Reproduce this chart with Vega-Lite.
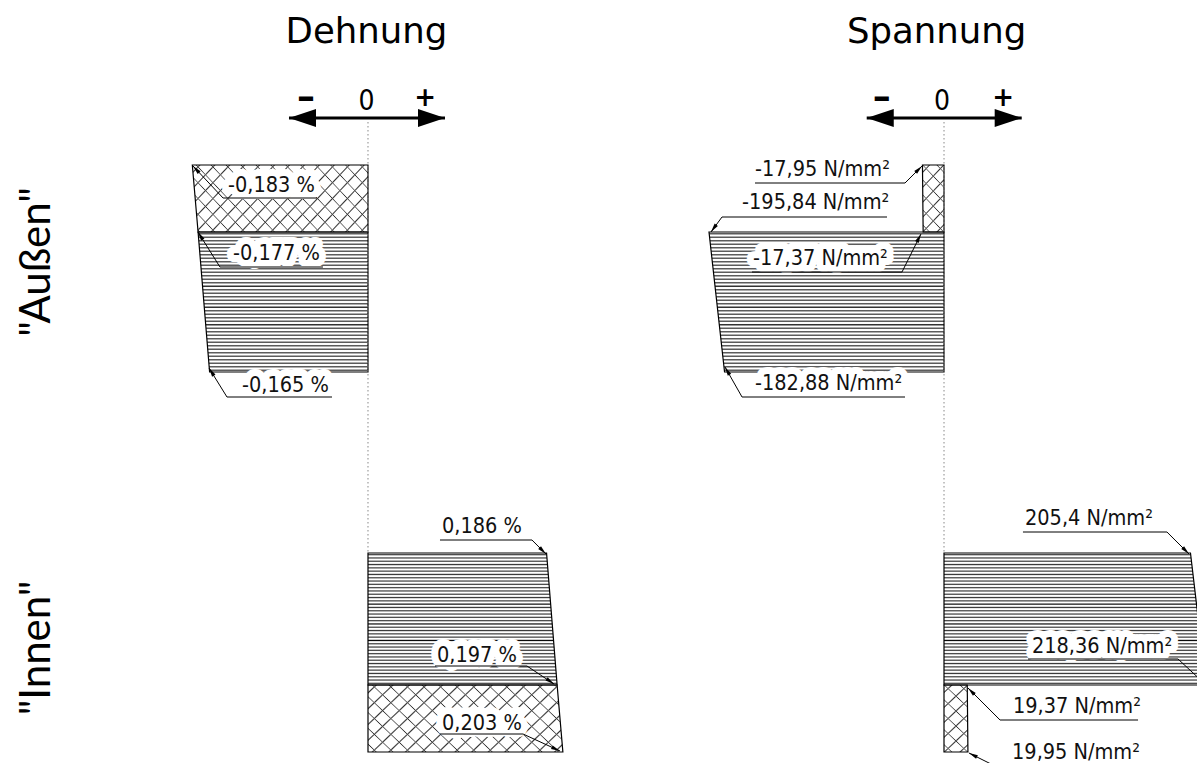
{
"$schema":"https://vega.github.io/schema/vega-lite/v6.json",
"padding":0,
"spacing":0,
"bounds":"flush",
"background":"white",
"config":{"view":{"stroke":null},"font":"DejaVu Sans"},
"datasets":{
"shape":[
{"panel":"D","part":"SO_X","hatch":"cross","v":-0.183,"z":0},{"panel":"D","part":"SO_X","hatch":"cross","v":-0.177,"z":33.5},
{"panel":"D","part":"SO_L","hatch":"lines","v":-0.177,"z":33.5},{"panel":"D","part":"SO_L","hatch":"lines","v":-0.165,"z":103.5},
{"panel":"D","part":"SI_L","hatch":"lines","v":0.186,"z":194},{"panel":"D","part":"SI_L","hatch":"lines","v":0.197,"z":260},
{"panel":"D","part":"SI_X","hatch":"cross","v":0.197,"z":260},{"panel":"D","part":"SI_X","hatch":"cross","v":0.203,"z":293.5},
{"panel":"S","part":"SO_X","hatch":"cross","v":-17.95,"z":0},{"panel":"S","part":"SO_X","hatch":"cross","v":-17.37,"z":33.5},
{"panel":"S","part":"SO_L","hatch":"lines","v":-195.84,"z":33.5},{"panel":"S","part":"SO_L","hatch":"lines","v":-182.88,"z":103.5},
{"panel":"S","part":"SI_L","hatch":"lines","v":205.4,"z":194},{"panel":"S","part":"SI_L","hatch":"lines","v":218.36,"z":260},
{"panel":"S","part":"SI_X","hatch":"cross","v":19.37,"z":260},{"panel":"S","part":"SI_X","hatch":"cross","v":19.95,"z":293.5}
],
"zero":[{"panel":"D","v":0,"z":-21.5,"z2":194},{"panel":"S","v":0,"z":-21.5,"z2":194}],
"labels":[
{"panel":"D","t":"-0,183 %","v":-0.1458,"z":13.5},
{"panel":"D","t":"-0,177 %","v":-0.1406,"z":47.5},
{"panel":"D","t":"-0,165 %","v":-0.1313,"z":113.5},
{"panel":"D","t":"0,186 %","v":0.0771,"z":184},
{"panel":"D","t":"0,197 %","v":0.0719,"z":248.5},
{"panel":"D","t":"0,203 %","v":0.0771,"z":282.5},
{"panel":"S","t":"-17,95 N/mm²","v":-157.5,"z":5.5},
{"panel":"S","t":"-195,84 N/mm²","v":-168.3,"z":22},
{"panel":"S","t":"-17,37 N/mm²","v":-159.2,"z":50},
{"panel":"S","t":"-182,88 N/mm²","v":-157.5,"z":112.5},
{"panel":"S","t":"205,4 N/mm²","v":67.5,"z":180},
{"panel":"S","t":"218,36 N/mm²","v":73.3,"z":244},
{"panel":"S","t":"19,37 N/mm²","v":57.5,"z":274},
{"panel":"S","t":"19,95 N/mm²","v":56.7,"z":297}
],
"leaders":[
{"panel":"D","id":"d1","o":0,"v":-0.0531,"z":16.5},{"panel":"D","id":"d1","o":1,"v":-0.151,"z":16.5},{"panel":"D","id":"d1","o":2,"v":-0.1823,"z":0.5},
{"panel":"D","id":"d2","o":0,"v":-0.0469,"z":51},{"panel":"D","id":"d2","o":1,"v":-0.1542,"z":51},{"panel":"D","id":"d2","o":2,"v":-0.1771,"z":33.5},
{"panel":"D","id":"d3","o":0,"v":-0.0375,"z":116},{"panel":"D","id":"d3","o":1,"v":-0.1469,"z":116},{"panel":"D","id":"d3","o":2,"v":-0.1656,"z":101.5},
{"panel":"D","id":"d4","o":0,"v":0.075,"z":187.5},{"panel":"D","id":"d4","o":1,"v":0.1708,"z":187.5},{"panel":"D","id":"d4","o":2,"v":0.1854,"z":194.5},
{"panel":"D","id":"d5","o":0,"v":0.0698,"z":250.5},{"panel":"D","id":"d5","o":1,"v":0.1656,"z":250.5},{"panel":"D","id":"d5","o":2,"v":0.1938,"z":259.5},
{"panel":"D","id":"d6","o":0,"v":0.075,"z":284.5},{"panel":"D","id":"d6","o":1,"v":0.1615,"z":284.5},{"panel":"D","id":"d6","o":2,"v":0.2,"z":293},
{"panel":"S","id":"s7","o":0,"v":-157.5,"z":9},{"panel":"S","id":"s7","o":1,"v":-32.5,"z":9},{"panel":"S","id":"s7","o":2,"v":-18.3,"z":0.5},
{"panel":"S","id":"s8","o":0,"v":-47.5,"z":26},{"panel":"S","id":"s8","o":1,"v":-185,"z":26},{"panel":"S","id":"s8","o":2,"v":-194.2,"z":33.5},
{"panel":"S","id":"s9","o":0,"v":-160,"z":53.5},{"panel":"S","id":"s9","o":1,"v":-35,"z":53.5},{"panel":"S","id":"s9","o":2,"v":-19.2,"z":34.5},
{"panel":"S","id":"s10","o":0,"v":-32.5,"z":116},{"panel":"S","id":"s10","o":1,"v":-168.3,"z":116},{"panel":"S","id":"s10","o":2,"v":-182.5,"z":101},
{"panel":"S","id":"s11","o":0,"v":65.8,"z":183.5},{"panel":"S","id":"s11","o":1,"v":185.8,"z":183.5},{"panel":"S","id":"s11","o":2,"v":204.2,"z":194.5},
{"panel":"S","id":"s12","o":0,"v":70,"z":247},{"panel":"S","id":"s12","o":1,"v":195,"z":247},{"panel":"S","id":"s12","o":2,"v":217.5,"z":259.5},
{"panel":"S","id":"s13","o":0,"v":161.7,"z":277.5},{"panel":"S","id":"s13","o":1,"v":46.7,"z":277.5},{"panel":"S","id":"s13","o":2,"v":20,"z":261.5},
{"panel":"S","id":"s14","o":0,"v":161.7,"z":300.5},{"panel":"S","id":"s14","o":1,"v":42.5,"z":300.5},{"panel":"S","id":"s14","o":2,"v":20.8,"z":294}
],
"heads":[
{"panel":"D","v":-0.1823,"z":0.5,"deg":-133},{"panel":"D","v":-0.1771,"z":33.5,"deg":-122},{"panel":"D","v":-0.1656,"z":101.5,"deg":-122},
{"panel":"D","v":0.1854,"z":194.5,"deg":45},{"panel":"D","v":0.1938,"z":259.5,"deg":34},{"panel":"D","v":0.2,"z":293,"deg":25},
{"panel":"S","v":-18.3,"z":0.5,"deg":-45},{"panel":"S","v":-194.2,"z":33.5,"deg":126},{"panel":"S","v":-19.2,"z":34.5,"deg":-63},
{"panel":"S","v":-182.5,"z":101,"deg":-120},{"panel":"S","v":204.2,"z":194.5,"deg":45},{"panel":"S","v":20,"z":261.5,"deg":-135},
{"panel":"S","v":20.8,"z":294,"deg":-153}
],
"ann":[
{"panel":"D","kind":"title","t":"Dehnung","v":-0.0016,"z":-61},
{"panel":"S","kind":"title","t":"Spannung","v":-6.1,"z":-61},
{"panel":"D","kind":"minus","t":"–","v":-0.0646,"z":-33.5},
{"panel":"D","kind":"plus","t":"+","v":0.0594,"z":-33.5},
{"panel":"D","kind":"zero","t":"0","v":-0.0016,"z":-27.5},
{"panel":"S","kind":"minus","t":"–","v":-51.9,"z":-33.5},
{"panel":"S","kind":"plus","t":"+","v":49.2,"z":-33.5},
{"panel":"S","kind":"zero","t":"0","v":-1.7,"z":-27.5}
],
"arrows":[
{"panel":"D","side":"L","v":-0.0823,"z":-23.5},{"panel":"D","side":"R","v":0.0802,"z":-23.5},
{"panel":"S","side":"L","v":-64.4,"z":-23.5},{"panel":"S","side":"R","v":64.75,"z":-23.5}
],
"rows":[
{"panel":"D","t":"\"Außen\"","v":-0.3313,"z":48.5},
{"panel":"D","t":"\"Innen\"","v":-0.3313,"z":241.5}
]
},
"hconcat":[
{
"width":660,"height":763,
"encoding":{
"x":{"field":"v","type":"quantitative","stack":null,"scale":{"domain":[-0.38333,0.30417],"nice":false,"zero":false},"axis":null},
"y":{"field":"z","type":"quantitative","scale":{"domain":[-82.5,299],"nice":false,"zero":false,"reverse":true},"axis":null}
},
"layer":[
{"data":{"name":"shape"},"transform":[{"filter":"datum.panel=='D' && datum.hatch=='lines'"}],
"mark":{"type":"area","orient":"horizontal","opacity":1,"fill":{"gradient":"linear","x1":0,"y1":0,"x2":0,"y2":1,"stops":[
{"offset":0.0035,"color":"#fff"},{"offset":0.0125,"color":"#333"},{"offset":0.0215,"color":"#fff"},
{"offset":0.0285,"color":"#fff"},{"offset":0.0375,"color":"#333"},{"offset":0.0465,"color":"#fff"},
{"offset":0.0535,"color":"#fff"},{"offset":0.0625,"color":"#333"},{"offset":0.0715,"color":"#fff"},
{"offset":0.0785,"color":"#fff"},{"offset":0.0875,"color":"#333"},{"offset":0.0965,"color":"#fff"},
{"offset":0.1035,"color":"#fff"},{"offset":0.1125,"color":"#333"},{"offset":0.1215,"color":"#fff"},
{"offset":0.1285,"color":"#fff"},{"offset":0.1375,"color":"#333"},{"offset":0.1465,"color":"#fff"},
{"offset":0.1535,"color":"#fff"},{"offset":0.1625,"color":"#333"},{"offset":0.1715,"color":"#fff"},
{"offset":0.1785,"color":"#fff"},{"offset":0.1875,"color":"#333"},{"offset":0.1965,"color":"#fff"},
{"offset":0.2035,"color":"#fff"},{"offset":0.2125,"color":"#333"},{"offset":0.2215,"color":"#fff"},
{"offset":0.2285,"color":"#fff"},{"offset":0.2375,"color":"#333"},{"offset":0.2465,"color":"#fff"},
{"offset":0.2535,"color":"#fff"},{"offset":0.2625,"color":"#333"},{"offset":0.2715,"color":"#fff"},
{"offset":0.2785,"color":"#fff"},{"offset":0.2875,"color":"#333"},{"offset":0.2965,"color":"#fff"},
{"offset":0.3035,"color":"#fff"},{"offset":0.3125,"color":"#333"},{"offset":0.3215,"color":"#fff"},
{"offset":0.3285,"color":"#fff"},{"offset":0.3375,"color":"#333"},{"offset":0.3465,"color":"#fff"},
{"offset":0.3535,"color":"#fff"},{"offset":0.3625,"color":"#333"},{"offset":0.3715,"color":"#fff"},
{"offset":0.3785,"color":"#fff"},{"offset":0.3875,"color":"#000"},{"offset":0.3965,"color":"#fff"},
{"offset":0.4035,"color":"#fff"},{"offset":0.4125,"color":"#333"},{"offset":0.4215,"color":"#fff"},
{"offset":0.4285,"color":"#fff"},{"offset":0.4375,"color":"#333"},{"offset":0.4465,"color":"#fff"},
{"offset":0.4535,"color":"#fff"},{"offset":0.4625,"color":"#333"},{"offset":0.4715,"color":"#fff"},
{"offset":0.4785,"color":"#fff"},{"offset":0.4875,"color":"#333"},{"offset":0.4965,"color":"#fff"},
{"offset":0.5035,"color":"#fff"},{"offset":0.5125,"color":"#333"},{"offset":0.5215,"color":"#fff"},
{"offset":0.5285,"color":"#fff"},{"offset":0.5375,"color":"#000"},{"offset":0.5465,"color":"#fff"},
{"offset":0.5535,"color":"#fff"},{"offset":0.5625,"color":"#333"},{"offset":0.5715,"color":"#fff"},
{"offset":0.5785,"color":"#fff"},{"offset":0.5875,"color":"#333"},{"offset":0.5965,"color":"#fff"},
{"offset":0.6035,"color":"#fff"},{"offset":0.6125,"color":"#333"},{"offset":0.6215,"color":"#fff"},
{"offset":0.6285,"color":"#fff"},{"offset":0.6375,"color":"#333"},{"offset":0.6465,"color":"#fff"},
{"offset":0.6535,"color":"#fff"},{"offset":0.6625,"color":"#000"},{"offset":0.6715,"color":"#fff"},
{"offset":0.6785,"color":"#fff"},{"offset":0.6875,"color":"#333"},{"offset":0.6965,"color":"#fff"},
{"offset":0.7035,"color":"#fff"},{"offset":0.7125,"color":"#333"},{"offset":0.7215,"color":"#fff"},
{"offset":0.7285,"color":"#fff"},{"offset":0.7375,"color":"#333"},{"offset":0.7465,"color":"#fff"},
{"offset":0.7535,"color":"#fff"},{"offset":0.7625,"color":"#333"},{"offset":0.7715,"color":"#fff"},
{"offset":0.7785,"color":"#fff"},{"offset":0.7875,"color":"#333"},{"offset":0.7965,"color":"#fff"},
{"offset":0.8035,"color":"#fff"},{"offset":0.8125,"color":"#333"},{"offset":0.8215,"color":"#fff"},
{"offset":0.8285,"color":"#fff"},{"offset":0.8375,"color":"#333"},{"offset":0.8465,"color":"#fff"},
{"offset":0.8535,"color":"#fff"},{"offset":0.8625,"color":"#333"},{"offset":0.8715,"color":"#fff"},
{"offset":0.8785,"color":"#fff"},{"offset":0.8875,"color":"#333"},{"offset":0.8965,"color":"#fff"},
{"offset":0.9035,"color":"#fff"},{"offset":0.9125,"color":"#333"},{"offset":0.9215,"color":"#fff"},
{"offset":0.9285,"color":"#fff"},{"offset":0.9375,"color":"#333"},{"offset":0.9465,"color":"#fff"},
{"offset":0.9535,"color":"#fff"},{"offset":0.9625,"color":"#333"},{"offset":0.9715,"color":"#fff"},
{"offset":0.9785,"color":"#fff"},{"offset":0.9875,"color":"#333"},{"offset":0.9965,"color":"#fff"}
]}},
"encoding":{"x2":{"datum":0},"detail":{"field":"part"}}},
{"data":{"name":"shape"},"transform":[{"filter":"datum.panel=='D' && datum.hatch=='cross'"}],
"mark":{"type":"area","orient":"horizontal","opacity":1,"fill":{"gradient":"linear","x1":0,"y1":0,"x2":1.204,"y2":0.434,"stops":[
{"offset":0.0253,"color":"#fff"},{"offset":0.0313,"color":"#333"},{"offset":0.0373,"color":"#fff"},
{"offset":0.0878,"color":"#fff"},{"offset":0.0938,"color":"#333"},{"offset":0.0998,"color":"#fff"},
{"offset":0.1503,"color":"#fff"},{"offset":0.1563,"color":"#333"},{"offset":0.1623,"color":"#fff"},
{"offset":0.2128,"color":"#fff"},{"offset":0.2188,"color":"#333"},{"offset":0.2248,"color":"#fff"},
{"offset":0.2753,"color":"#fff"},{"offset":0.2813,"color":"#333"},{"offset":0.2873,"color":"#fff"},
{"offset":0.3378,"color":"#fff"},{"offset":0.3438,"color":"#333"},{"offset":0.3498,"color":"#fff"},
{"offset":0.4003,"color":"#fff"},{"offset":0.4063,"color":"#333"},{"offset":0.4123,"color":"#fff"},
{"offset":0.4628,"color":"#fff"},{"offset":0.4688,"color":"#333"},{"offset":0.4748,"color":"#fff"},
{"offset":0.5253,"color":"#fff"},{"offset":0.5313,"color":"#333"},{"offset":0.5373,"color":"#fff"},
{"offset":0.5878,"color":"#fff"},{"offset":0.5938,"color":"#333"},{"offset":0.5998,"color":"#fff"},
{"offset":0.6503,"color":"#fff"},{"offset":0.6563,"color":"#333"},{"offset":0.6623,"color":"#fff"},
{"offset":0.7128,"color":"#fff"},{"offset":0.7188,"color":"#333"},{"offset":0.7248,"color":"#fff"},
{"offset":0.7753,"color":"#fff"},{"offset":0.7813,"color":"#333"},{"offset":0.7873,"color":"#fff"},
{"offset":0.8378,"color":"#fff"},{"offset":0.8438,"color":"#333"},{"offset":0.8498,"color":"#fff"},
{"offset":0.9003,"color":"#fff"},{"offset":0.9063,"color":"#333"},{"offset":0.9123,"color":"#fff"},
{"offset":0.9628,"color":"#fff"},{"offset":0.9688,"color":"#333"},{"offset":0.9748,"color":"#fff"}
]}},
"encoding":{"x2":{"datum":0},"detail":{"field":"part"}}},
{"data":{"name":"shape"},"transform":[{"filter":"datum.panel=='D' && datum.hatch=='cross'"}],
"mark":{"type":"area","orient":"horizontal","opacity":1,"fill":{"gradient":"linear","x1":1,"y1":0,"x2":-0.204,"y2":0.434,"stops":[
{"offset":0.0253,"color":"rgba(255,255,255,0)"},{"offset":0.0313,"color":"#333"},{"offset":0.0373,"color":"rgba(255,255,255,0)"},
{"offset":0.0878,"color":"rgba(255,255,255,0)"},{"offset":0.0938,"color":"#333"},{"offset":0.0998,"color":"rgba(255,255,255,0)"},
{"offset":0.1503,"color":"rgba(255,255,255,0)"},{"offset":0.1563,"color":"#333"},{"offset":0.1623,"color":"rgba(255,255,255,0)"},
{"offset":0.2128,"color":"rgba(255,255,255,0)"},{"offset":0.2188,"color":"#333"},{"offset":0.2248,"color":"rgba(255,255,255,0)"},
{"offset":0.2753,"color":"rgba(255,255,255,0)"},{"offset":0.2813,"color":"#333"},{"offset":0.2873,"color":"rgba(255,255,255,0)"},
{"offset":0.3378,"color":"rgba(255,255,255,0)"},{"offset":0.3438,"color":"#333"},{"offset":0.3498,"color":"rgba(255,255,255,0)"},
{"offset":0.4003,"color":"rgba(255,255,255,0)"},{"offset":0.4063,"color":"#333"},{"offset":0.4123,"color":"rgba(255,255,255,0)"},
{"offset":0.4628,"color":"rgba(255,255,255,0)"},{"offset":0.4688,"color":"#333"},{"offset":0.4748,"color":"rgba(255,255,255,0)"},
{"offset":0.5253,"color":"rgba(255,255,255,0)"},{"offset":0.5313,"color":"#333"},{"offset":0.5373,"color":"rgba(255,255,255,0)"},
{"offset":0.5878,"color":"rgba(255,255,255,0)"},{"offset":0.5938,"color":"#333"},{"offset":0.5998,"color":"rgba(255,255,255,0)"},
{"offset":0.6503,"color":"rgba(255,255,255,0)"},{"offset":0.6563,"color":"#333"},{"offset":0.6623,"color":"rgba(255,255,255,0)"},
{"offset":0.7128,"color":"rgba(255,255,255,0)"},{"offset":0.7188,"color":"#333"},{"offset":0.7248,"color":"rgba(255,255,255,0)"},
{"offset":0.7753,"color":"rgba(255,255,255,0)"},{"offset":0.7813,"color":"#333"},{"offset":0.7873,"color":"rgba(255,255,255,0)"},
{"offset":0.8378,"color":"rgba(255,255,255,0)"},{"offset":0.8438,"color":"#333"},{"offset":0.8498,"color":"rgba(255,255,255,0)"},
{"offset":0.9003,"color":"rgba(255,255,255,0)"},{"offset":0.9063,"color":"#333"},{"offset":0.9123,"color":"rgba(255,255,255,0)"},
{"offset":0.9628,"color":"rgba(255,255,255,0)"},{"offset":0.9688,"color":"#333"},{"offset":0.9748,"color":"rgba(255,255,255,0)"}
]}},
"encoding":{"x2":{"datum":0},"detail":{"field":"part"}}},
{"data":{"name":"shape"},"transform":[{"filter":"datum.panel=='D'"}],
"mark":{"type":"area","orient":"horizontal","fill":"transparent","stroke":"#000","strokeWidth":1.2},
"encoding":{"x2":{"datum":0},"detail":{"field":"part"}}},
{"data":{"name":"zero"},"transform":[{"filter":"datum.panel=='D'"}],
"mark":{"type":"rule","color":"#888","strokeDash":[1.5,2.5],"strokeWidth":1},
"encoding":{"y2":{"field":"z2"}}},
{"data":{"name":"labels"},"transform":[{"filter":"datum.panel=='D'"}],
"mark":{"type":"text","align":"left","baseline":"alphabetic","font":"DejaVu Sans Condensed","fontSize":21.5,"fill":"#fff","stroke":"#fff","strokeWidth":14,"strokeJoin":"round"},
"encoding":{"text":{"field":"t"}}},
{"data":{"name":"leaders"},"transform":[{"filter":"datum.panel=='D'"}],
"mark":{"type":"line","color":"#000","strokeWidth":1},
"encoding":{"detail":{"field":"id"},"order":{"field":"o"}}},
{"data":{"name":"heads"},"transform":[{"filter":"datum.panel=='D'"}],
"mark":{"type":"point","shape":"M0,0L-1,-0.22L-1,0.22Z","size":324,"filled":true,"color":"#000","opacity":1},
"encoding":{"angle":{"field":"deg","type":"quantitative","scale":null}}},
{"data":{"name":"labels"},"transform":[{"filter":"datum.panel=='D'"}],
"mark":{"type":"text","align":"left","baseline":"alphabetic","font":"DejaVu Sans Condensed","fontSize":21.5,"color":"#111"},
"encoding":{"text":{"field":"t"}}},
{"data":{"name":"ann"},"transform":[{"filter":"datum.panel=='D' && datum.kind=='title'"}],
"mark":{"type":"text","align":"center","baseline":"alphabetic","fontSize":35.5,"color":"#000"},
"encoding":{"text":{"field":"t"}}},
{"data":{"name":"ann"},"transform":[{"filter":"datum.panel=='D' && datum.kind=='minus'"}],
"mark":{"type":"text","align":"center","baseline":"middle","fontSize":36,"fontWeight":"bold","color":"#000"},
"encoding":{"text":{"field":"t"}}},
{"data":{"name":"ann"},"transform":[{"filter":"datum.panel=='D' && datum.kind=='plus'"}],
"mark":{"type":"text","align":"center","baseline":"middle","fontSize":26,"fontWeight":"bold","color":"#000"},
"encoding":{"text":{"field":"t"}}},
{"data":{"name":"ann"},"transform":[{"filter":"datum.panel=='D' && datum.kind=='zero'"}],
"mark":{"type":"text","align":"center","baseline":"alphabetic","font":"DejaVu Sans Condensed","fontSize":28,"color":"#000"},
"encoding":{"text":{"field":"t"}}},
{"data":{"name":"arrows"},"transform":[{"filter":"datum.panel=='D'"}],
"mark":{"type":"line","color":"#000","strokeWidth":3,"strokeCap":"butt"},
"encoding":{}},
{"data":{"name":"arrows"},"transform":[{"filter":"datum.panel=='D'"}],
"mark":{"type":"point","size":2916,"filled":true,"color":"#000","opacity":1},
"encoding":{"shape":{"field":"side","type":"nominal","scale":{"domain":["L","R"],"range":["M0,0L1,-0.33L1,0.33Z","M0,0L-1,-0.33L-1,0.33Z"]},"legend":null}}},
{"data":{"name":"rows"},
"mark":{"type":"text","angle":270,"align":"center","baseline":"alphabetic","font":"Lato","fontSize":42,"color":"#000"},
"encoding":{"text":{"field":"t"}}}
]
},
{
"width":537,"height":763,
"encoding":{
"x":{"field":"v","type":"quantitative","stack":null,"scale":{"domain":[-236.667,210.833],"nice":false,"zero":false},"axis":null},
"y":{"field":"z","type":"quantitative","scale":{"domain":[-82.5,299],"nice":false,"zero":false,"reverse":true},"axis":null}
},
"layer":[
{"data":{"name":"shape"},"transform":[{"filter":"datum.panel=='S' && datum.hatch=='lines'"}],
"mark":{"type":"area","orient":"horizontal","clip":true,"opacity":1,"fill":{"gradient":"linear","x1":0,"y1":0,"x2":0,"y2":1,"stops":[
{"offset":0.0035,"color":"#fff"},{"offset":0.0125,"color":"#333"},{"offset":0.0215,"color":"#fff"},
{"offset":0.0285,"color":"#fff"},{"offset":0.0375,"color":"#333"},{"offset":0.0465,"color":"#fff"},
{"offset":0.0535,"color":"#fff"},{"offset":0.0625,"color":"#333"},{"offset":0.0715,"color":"#fff"},
{"offset":0.0785,"color":"#fff"},{"offset":0.0875,"color":"#333"},{"offset":0.0965,"color":"#fff"},
{"offset":0.1035,"color":"#fff"},{"offset":0.1125,"color":"#333"},{"offset":0.1215,"color":"#fff"},
{"offset":0.1285,"color":"#fff"},{"offset":0.1375,"color":"#333"},{"offset":0.1465,"color":"#fff"},
{"offset":0.1535,"color":"#fff"},{"offset":0.1625,"color":"#333"},{"offset":0.1715,"color":"#fff"},
{"offset":0.1785,"color":"#fff"},{"offset":0.1875,"color":"#333"},{"offset":0.1965,"color":"#fff"},
{"offset":0.2035,"color":"#fff"},{"offset":0.2125,"color":"#333"},{"offset":0.2215,"color":"#fff"},
{"offset":0.2285,"color":"#fff"},{"offset":0.2375,"color":"#333"},{"offset":0.2465,"color":"#fff"},
{"offset":0.2535,"color":"#fff"},{"offset":0.2625,"color":"#333"},{"offset":0.2715,"color":"#fff"},
{"offset":0.2785,"color":"#fff"},{"offset":0.2875,"color":"#333"},{"offset":0.2965,"color":"#fff"},
{"offset":0.3035,"color":"#fff"},{"offset":0.3125,"color":"#333"},{"offset":0.3215,"color":"#fff"},
{"offset":0.3285,"color":"#fff"},{"offset":0.3375,"color":"#333"},{"offset":0.3465,"color":"#fff"},
{"offset":0.3535,"color":"#fff"},{"offset":0.3625,"color":"#333"},{"offset":0.3715,"color":"#fff"},
{"offset":0.3785,"color":"#fff"},{"offset":0.3875,"color":"#000"},{"offset":0.3965,"color":"#fff"},
{"offset":0.4035,"color":"#fff"},{"offset":0.4125,"color":"#333"},{"offset":0.4215,"color":"#fff"},
{"offset":0.4285,"color":"#fff"},{"offset":0.4375,"color":"#333"},{"offset":0.4465,"color":"#fff"},
{"offset":0.4535,"color":"#fff"},{"offset":0.4625,"color":"#333"},{"offset":0.4715,"color":"#fff"},
{"offset":0.4785,"color":"#fff"},{"offset":0.4875,"color":"#333"},{"offset":0.4965,"color":"#fff"},
{"offset":0.5035,"color":"#fff"},{"offset":0.5125,"color":"#333"},{"offset":0.5215,"color":"#fff"},
{"offset":0.5285,"color":"#fff"},{"offset":0.5375,"color":"#000"},{"offset":0.5465,"color":"#fff"},
{"offset":0.5535,"color":"#fff"},{"offset":0.5625,"color":"#333"},{"offset":0.5715,"color":"#fff"},
{"offset":0.5785,"color":"#fff"},{"offset":0.5875,"color":"#333"},{"offset":0.5965,"color":"#fff"},
{"offset":0.6035,"color":"#fff"},{"offset":0.6125,"color":"#333"},{"offset":0.6215,"color":"#fff"},
{"offset":0.6285,"color":"#fff"},{"offset":0.6375,"color":"#333"},{"offset":0.6465,"color":"#fff"},
{"offset":0.6535,"color":"#fff"},{"offset":0.6625,"color":"#000"},{"offset":0.6715,"color":"#fff"},
{"offset":0.6785,"color":"#fff"},{"offset":0.6875,"color":"#333"},{"offset":0.6965,"color":"#fff"},
{"offset":0.7035,"color":"#fff"},{"offset":0.7125,"color":"#333"},{"offset":0.7215,"color":"#fff"},
{"offset":0.7285,"color":"#fff"},{"offset":0.7375,"color":"#333"},{"offset":0.7465,"color":"#fff"},
{"offset":0.7535,"color":"#fff"},{"offset":0.7625,"color":"#333"},{"offset":0.7715,"color":"#fff"},
{"offset":0.7785,"color":"#fff"},{"offset":0.7875,"color":"#333"},{"offset":0.7965,"color":"#fff"},
{"offset":0.8035,"color":"#fff"},{"offset":0.8125,"color":"#333"},{"offset":0.8215,"color":"#fff"},
{"offset":0.8285,"color":"#fff"},{"offset":0.8375,"color":"#333"},{"offset":0.8465,"color":"#fff"},
{"offset":0.8535,"color":"#fff"},{"offset":0.8625,"color":"#333"},{"offset":0.8715,"color":"#fff"},
{"offset":0.8785,"color":"#fff"},{"offset":0.8875,"color":"#333"},{"offset":0.8965,"color":"#fff"},
{"offset":0.9035,"color":"#fff"},{"offset":0.9125,"color":"#333"},{"offset":0.9215,"color":"#fff"},
{"offset":0.9285,"color":"#fff"},{"offset":0.9375,"color":"#333"},{"offset":0.9465,"color":"#fff"},
{"offset":0.9535,"color":"#fff"},{"offset":0.9625,"color":"#333"},{"offset":0.9715,"color":"#fff"},
{"offset":0.9785,"color":"#fff"},{"offset":0.9875,"color":"#333"},{"offset":0.9965,"color":"#fff"}
]}},
"encoding":{"x2":{"datum":0},"detail":{"field":"part"}}},
{"data":{"name":"shape"},"transform":[{"filter":"datum.panel=='S' && datum.hatch=='cross'"}],
"mark":{"type":"area","orient":"horizontal","clip":true,"opacity":1,"fill":{"gradient":"linear","x1":0,"y1":0,"x2":0.407,"y2":1.202,"stops":[
{"offset":0.0673,"color":"#fff"},{"offset":0.0833,"color":"#333"},{"offset":0.0993,"color":"#fff"},
{"offset":0.234,"color":"#fff"},{"offset":0.25,"color":"#333"},{"offset":0.266,"color":"#fff"},
{"offset":0.4007,"color":"#fff"},{"offset":0.4167,"color":"#333"},{"offset":0.4327,"color":"#fff"},
{"offset":0.5673,"color":"#fff"},{"offset":0.5833,"color":"#333"},{"offset":0.5993,"color":"#fff"},
{"offset":0.734,"color":"#fff"},{"offset":0.75,"color":"#333"},{"offset":0.766,"color":"#fff"},
{"offset":0.9007,"color":"#fff"},{"offset":0.9167,"color":"#333"},{"offset":0.9327,"color":"#fff"}
]}},
"encoding":{"x2":{"datum":0},"detail":{"field":"part"}}},
{"data":{"name":"shape"},"transform":[{"filter":"datum.panel=='S' && datum.hatch=='cross'"}],
"mark":{"type":"area","orient":"horizontal","clip":true,"opacity":1,"fill":{"gradient":"linear","x1":1,"y1":0,"x2":0.593,"y2":1.202,"stops":[
{"offset":0.0673,"color":"rgba(255,255,255,0)"},{"offset":0.0833,"color":"#333"},{"offset":0.0993,"color":"rgba(255,255,255,0)"},
{"offset":0.234,"color":"rgba(255,255,255,0)"},{"offset":0.25,"color":"#333"},{"offset":0.266,"color":"rgba(255,255,255,0)"},
{"offset":0.4007,"color":"rgba(255,255,255,0)"},{"offset":0.4167,"color":"#333"},{"offset":0.4327,"color":"rgba(255,255,255,0)"},
{"offset":0.5673,"color":"rgba(255,255,255,0)"},{"offset":0.5833,"color":"#333"},{"offset":0.5993,"color":"rgba(255,255,255,0)"},
{"offset":0.734,"color":"rgba(255,255,255,0)"},{"offset":0.75,"color":"#333"},{"offset":0.766,"color":"rgba(255,255,255,0)"},
{"offset":0.9007,"color":"rgba(255,255,255,0)"},{"offset":0.9167,"color":"#333"},{"offset":0.9327,"color":"rgba(255,255,255,0)"}
]}},
"encoding":{"x2":{"datum":0},"detail":{"field":"part"}}},
{"data":{"name":"shape"},"transform":[{"filter":"datum.panel=='S'"}],
"mark":{"type":"area","orient":"horizontal","clip":true,"fill":"transparent","stroke":"#000","strokeWidth":1.2},
"encoding":{"x2":{"datum":0},"detail":{"field":"part"}}},
{"data":{"name":"zero"},"transform":[{"filter":"datum.panel=='S'"}],
"mark":{"type":"rule","color":"#888","strokeDash":[1.5,2.5],"strokeWidth":1},
"encoding":{"y2":{"field":"z2"}}},
{"data":{"name":"labels"},"transform":[{"filter":"datum.panel=='S'"}],
"mark":{"type":"text","align":"left","baseline":"alphabetic","clip":true,"font":"DejaVu Sans Condensed","fontSize":21.5,"fill":"#fff","stroke":"#fff","strokeWidth":14,"strokeJoin":"round"},
"encoding":{"text":{"field":"t"}}},
{"data":{"name":"leaders"},"transform":[{"filter":"datum.panel=='S'"}],
"mark":{"type":"line","clip":true,"color":"#000","strokeWidth":1},
"encoding":{"detail":{"field":"id"},"order":{"field":"o"}}},
{"data":{"name":"heads"},"transform":[{"filter":"datum.panel=='S'"}],
"mark":{"type":"point","clip":true,"shape":"M0,0L-1,-0.22L-1,0.22Z","size":324,"filled":true,"color":"#000","opacity":1},
"encoding":{"angle":{"field":"deg","type":"quantitative","scale":null}}},
{"data":{"name":"labels"},"transform":[{"filter":"datum.panel=='S'"}],
"mark":{"type":"text","align":"left","baseline":"alphabetic","clip":true,"font":"DejaVu Sans Condensed","fontSize":21.5,"color":"#111"},
"encoding":{"text":{"field":"t"}}},
{"data":{"name":"ann"},"transform":[{"filter":"datum.panel=='S' && datum.kind=='title'"}],
"mark":{"type":"text","align":"center","baseline":"alphabetic","fontSize":35.5,"color":"#000"},
"encoding":{"text":{"field":"t"}}},
{"data":{"name":"ann"},"transform":[{"filter":"datum.panel=='S' && datum.kind=='minus'"}],
"mark":{"type":"text","align":"center","baseline":"middle","fontSize":36,"fontWeight":"bold","color":"#000"},
"encoding":{"text":{"field":"t"}}},
{"data":{"name":"ann"},"transform":[{"filter":"datum.panel=='S' && datum.kind=='plus'"}],
"mark":{"type":"text","align":"center","baseline":"middle","fontSize":26,"fontWeight":"bold","color":"#000"},
"encoding":{"text":{"field":"t"}}},
{"data":{"name":"ann"},"transform":[{"filter":"datum.panel=='S' && datum.kind=='zero'"}],
"mark":{"type":"text","align":"center","baseline":"alphabetic","font":"DejaVu Sans Condensed","fontSize":28,"color":"#000"},
"encoding":{"text":{"field":"t"}}},
{"data":{"name":"arrows"},"transform":[{"filter":"datum.panel=='S'"}],
"mark":{"type":"line","color":"#000","strokeWidth":3,"strokeCap":"butt"},
"encoding":{}},
{"data":{"name":"arrows"},"transform":[{"filter":"datum.panel=='S'"}],
"mark":{"type":"point","size":2916,"filled":true,"color":"#000","opacity":1},
"encoding":{"shape":{"field":"side","type":"nominal","scale":{"domain":["L","R"],"range":["M0,0L1,-0.33L1,0.33Z","M0,0L-1,-0.33L-1,0.33Z"]},"legend":null}}}
]
}
]
}
